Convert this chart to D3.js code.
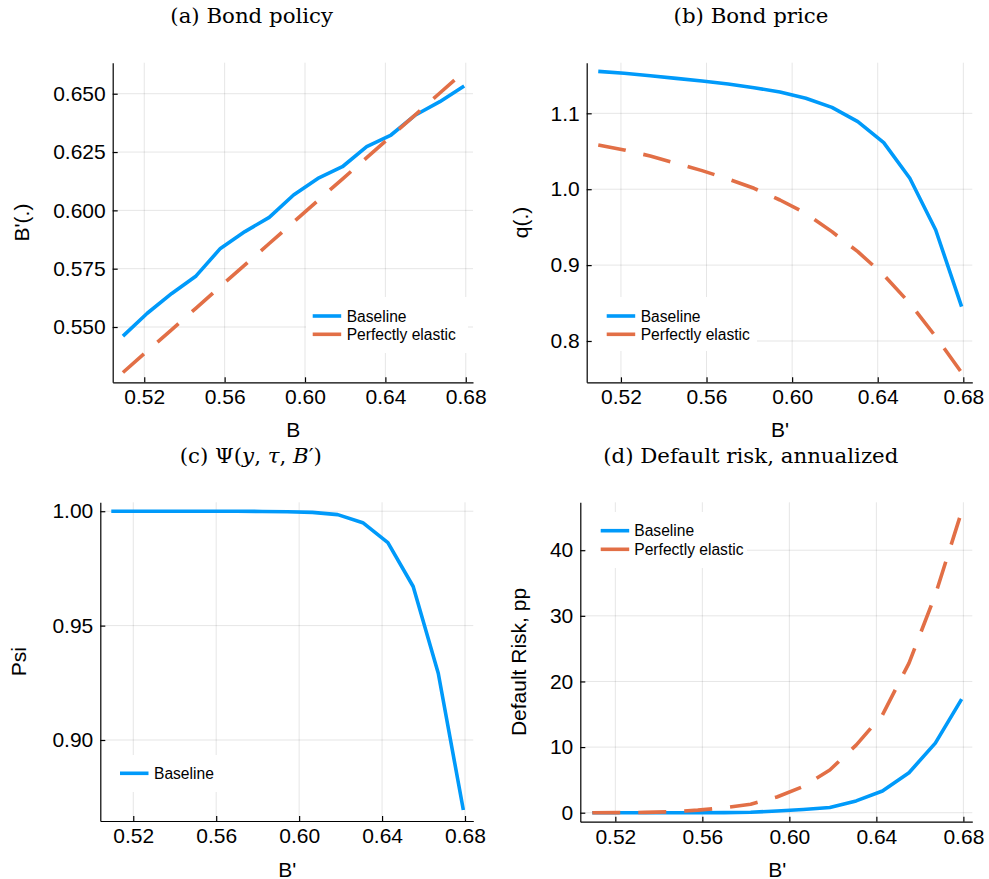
<!DOCTYPE html>
<html>
<head>
<meta charset="utf-8">
<script src="https://cdn.jsdelivr.net/npm/d3@7"></script>
<style>
  html, body { margin: 0; padding: 0; background: #fff; }
  svg { display: block; }
  .tick text { font-family: "Liberation Sans", Arial, sans-serif; font-size: 21px; fill: #000; }
</style>
</head>
<body>
<svg id="chart" width="989" height="879"></svg>
<script>
// ---------------- data ----------------
const bGrid = [0.5094, 0.5215, 0.5337, 0.5458, 0.5579, 0.5701, 0.5822, 0.5943, 0.6064, 0.6186, 0.6307, 0.6428, 0.6550, 0.6671, 0.6792];

// (a) Bond policy B'(B)
const policyBaseline = [0.5461, 0.5559, 0.5644, 0.5719, 0.5837, 0.5909, 0.5970, 0.6066, 0.6137, 0.6187, 0.6273, 0.6323, 0.6409, 0.6466, 0.6533];
const policyElastic  = [0.5305, 0.5397, 0.5489, 0.5581, 0.5674, 0.5766, 0.5858, 0.5950, 0.6042, 0.6134, 0.6226, 0.6318, 0.6410, 0.6503, 0.6595];

// (b) Bond price q(B')
const priceBaseline = [1.1553, 1.1527, 1.1496, 1.1461, 1.1426, 1.1386, 1.1338, 1.1281, 1.1198, 1.1079, 1.0890, 1.0614, 1.0144, 0.9463, 0.8453];
const priceElastic  = [1.0583, 1.0517, 1.0438, 1.0341, 1.0245, 1.0135, 1.0012, 0.9858, 0.9682, 0.9441, 0.9177, 0.8870, 0.8497, 0.8058, 0.7583];

// (c) Psi(y, tau, B')
const psiBaseline = [1.0000, 1.0000, 1.0000, 1.0000, 1.0000, 1.0000, 0.9999, 0.9998, 0.9995, 0.9985, 0.9950, 0.9863, 0.9671, 0.9292, 0.8694];

// (d) Default risk, annualized (pp)
const riskBaseline = [0.00, 0.00, 0.00, 0.00, 0.00, 0.02, 0.08, 0.25, 0.50, 0.80, 1.80, 3.30, 6.10, 10.60, 17.30];
const riskElastic  = [0.00, 0.02, 0.05, 0.15, 0.40, 0.75, 1.30, 2.40, 4.00, 6.50, 10.30, 14.90, 22.80, 33.20, 45.90];

const xTicks = [0.52, 0.56, 0.60, 0.64, 0.68];
const yTicksA = [0.550, 0.575, 0.600, 0.625, 0.650];
const yTicksB = [0.8, 0.9, 1.0, 1.1];
const yTicksC = [0.90, 0.95, 1.00];
const yTicksD = [0, 10, 20, 30, 40];

const seriesNames = ["Baseline", "Perfectly elastic"];

// ---------------- styles ----------------
const BLUE = "#009AFA", ORANGE = "#E26F46";
const DASH = "28,18";
const LW = 3.6;

const svg = d3.select("#chart");

const panels = [
  { id: "a", left: 112.7, right: 473, top: 62.7, bottom: 382.3,
    xDom: [0.5043, 0.6836], yDom: [0.5263, 0.6633], yTicks: yTicksA, yFmt: d3.format(".3f"),
    series: [policyBaseline, policyElastic],
    xLabel: "B", xLabelPos: [293.3, 429], yLabel: "B'(.)", yLabelX: 21.7,
    title: [["(a) Bond policy", false]], titlePos: [251.7, 23],
    legend: { box: [306, 297, 162, 56], lineX: 312.7, textX: 346.7, ys: [316, 334.3] } },
  { id: "b", left: 586.7, right: 972.3, top: 62.7, bottom: 382.3,
    xDom: [0.504, 0.6842], yDom: [0.7456, 1.1667], yTicks: yTicksB, yFmt: d3.format(".1f"),
    series: [priceBaseline, priceElastic],
    xLabel: "B'", xLabelPos: [780, 429], yLabel: "q(.)", yLabelX: 520.7,
    title: [["(b) Bond price", false]], titlePos: [751, 23],
    legend: { box: [592, 297, 165, 54], lineX: 606.7, textX: 640.7, ys: [316, 334.3] } },
  { id: "c", left: 100.3, right: 473.3, top: 502.3, bottom: 821,
    xDom: [0.5041, 0.684], yDom: [0.8646, 1.0039], yTicks: yTicksC, yFmt: d3.format(".2f"),
    series: [psiBaseline],
    xLabel: "B'", xLabelPos: [287.3, 869], yLabel: "Psi", yLabelX: 18.3,
    title: [["(c) ", false], ["Ψ(", false], ["y", true], [", ", false], ["τ", true], [", ", false], ["B", true], ["′)", false]],
    titlePos: [250.8, 463],
    legend: { box: [106, 755, 116, 37], lineX: 120, textX: 154, ys: [773.3] } },
  { id: "d", left: 580.3, right: 972.3, top: 502.3, bottom: 821.7,
    xDom: [0.5039, 0.6841], yDom: [-1.37, 47.3], yTicks: yTicksD, yFmt: d3.format("d"),
    series: [riskBaseline, riskElastic],
    xLabel: "B'", xLabelPos: [777.3, 869], yLabel: "Default Risk, pp", yLabelX: 518.3,
    title: [["(d) Default risk, annualized", false]], titlePos: [750.8, 463],
    legend: { box: [586, 512, 161, 56], lineX: 600.7, textX: 634.3, ys: [530.7, 549.3] } }
];

const colors = [BLUE, ORANGE];
const dashes = [null, DASH];

panels.forEach(p => {
  const x = d3.scaleLinear().domain(p.xDom).range([p.left, p.right]);
  const y = d3.scaleLinear().domain(p.yDom).range([p.bottom, p.top]);
  const g = svg.append("g");

  svg.append("clipPath").attr("id", "clip-" + p.id)
    .append("rect").attr("x", p.left).attr("y", p.top)
    .attr("width", p.right - p.left).attr("height", p.bottom - p.top);

  // grid
  g.append("g").selectAll("line").data(xTicks).join("line")
    .attr("x1", d => x(d)).attr("x2", d => x(d))
    .attr("y1", p.top).attr("y2", p.bottom)
    .attr("stroke", "#000").attr("stroke-opacity", 0.1).attr("stroke-width", 1);
  g.append("g").selectAll("line").data(p.yTicks).join("line")
    .attr("x1", p.left).attr("x2", p.right)
    .attr("y1", d => y(d)).attr("y2", d => y(d))
    .attr("stroke", "#000").attr("stroke-opacity", 0.1).attr("stroke-width", 1);

  // series
  const line = d3.line().x((d, i) => x(bGrid[i])).y(d => y(d));
  p.series.forEach((s, k) => {
    g.append("path").datum(s)
      .attr("clip-path", "url(#clip-" + p.id + ")")
      .attr("d", line)
      .attr("fill", "none")
      .attr("stroke", colors[k])
      .attr("stroke-width", LW)
      .attr("stroke-linejoin", "round")
      .attr("stroke-dasharray", dashes[k]);
  });

  // axes
  const xAxis = d3.axisBottom(x).tickValues(xTicks).tickFormat(d3.format(".2f"))
    .tickSizeInner(-5).tickSizeOuter(0).tickPadding(7);
  const gx = g.append("g").attr("transform", `translate(0,${p.bottom})`).call(xAxis);
  const yAxis = d3.axisLeft(y).tickValues(p.yTicks).tickFormat(p.yFmt)
    .tickSizeInner(-5).tickSizeOuter(0).tickPadding(7);
  const gy = g.append("g").attr("transform", `translate(${p.left},0)`).call(yAxis);
  [gx, gy].forEach(a => {
    a.select(".domain").attr("stroke", "#000").attr("stroke-width", 1.2);
    a.selectAll(".tick line").attr("stroke", "#000").attr("stroke-width", 1.2);
    a.attr("font-family", null).attr("font-size", null);
  });

  // legend
  const L = p.legend;
  g.append("rect").attr("x", L.box[0]).attr("y", L.box[1])
    .attr("width", L.box[2]).attr("height", L.box[3]).attr("fill", "#fff");
  L.ys.forEach((ly, k) => {
    g.append("line").attr("x1", L.lineX).attr("x2", L.lineX + 28.5)
      .attr("y1", ly).attr("y2", ly)
      .attr("stroke", colors[k]).attr("stroke-width", LW);
    g.append("text").attr("x", L.textX).attr("y", ly)
      .attr("dominant-baseline", "central")
      .attr("font-family", "Liberation Sans, Arial, sans-serif")
      .attr("font-size", 15.6).attr("fill", "#000")
      .text(seriesNames[k]);
  });

  // axis labels
  g.append("text").attr("x", p.xLabelPos[0]).attr("y", p.xLabelPos[1])
    .attr("text-anchor", "middle").attr("dominant-baseline", "central")
    .attr("font-family", "Liberation Sans, Arial, sans-serif").attr("font-size", 21)
    .text(p.xLabel);
  const yc = (p.top + p.bottom) / 2;
  g.append("text").attr("transform", `translate(${p.yLabelX},${yc}) rotate(-90)`)
    .attr("text-anchor", "middle").attr("dominant-baseline", "central")
    .attr("font-family", "Liberation Sans, Arial, sans-serif").attr("font-size", 21)
    .text(p.yLabel);

  // title
  const t = g.append("text").attr("x", p.titlePos[0]).attr("y", p.titlePos[1])
    .attr("text-anchor", "middle")
    .attr("font-family", "DejaVu Serif, serif").attr("font-size", 21.3).attr("fill", "#000");
  p.title.forEach(([txt, it]) => {
    t.append("tspan").attr("font-style", it ? "italic" : null).text(txt);
  });
});
</script>
</body>
</html>
